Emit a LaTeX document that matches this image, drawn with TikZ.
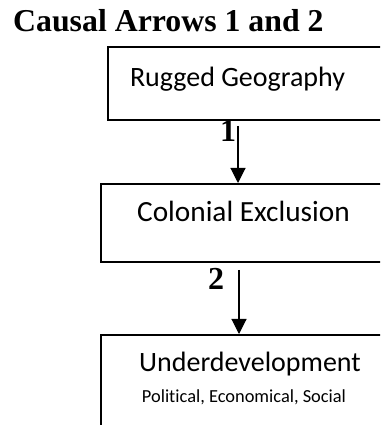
\documentclass[tikz,border=0pt]{standalone}
\usepackage{fontspec}
\setmainfont{Liberation Serif}
\newfontfamily\boxfont[RawFeature=-liga]{Carlito}
\usetikzlibrary{arrows.meta}
\begin{document}
\begin{tikzpicture}[x=1pt,y=1pt,
  stagebox/.style={draw=black,line width=1.6pt,rectangle,inner sep=0pt},
  stagetext/.style={font=\boxfont\fontsize{28}{30}\selectfont,anchor=base,inner sep=0pt},
  subtext/.style={font=\boxfont\fontsize{18.4}{20}\selectfont,anchor=base,inner sep=0pt},
  numlabel/.style={font=\bfseries\fontsize{32}{34}\selectfont,anchor=base,inner sep=0pt},
  causal/.style={line width=1.1pt,-{Triangle[length=15pt,width=15pt]}}]
\useasboundingbox (0,0) rectangle (380,425);
\clip (0,0) rectangle (380,425);
% heading
\node[font=\bfseries\fontsize{31.8}{34}\selectfont,anchor=base west,inner sep=0pt] (title) at (13,393) {Causal Arrows 1 and 2};
% the three stages (boxes run off the right-hand side)
\node[stagebox,minimum width=290pt,minimum height=73pt,anchor=north west] (geo) at (107,379) {};
\node[stagebox,minimum width=300pt,minimum height=78pt,anchor=north west] (col) at (100,242) {};
\node[stagebox,minimum width=300pt,minimum height=120pt,anchor=north west] (und) at (100,91) {};
% box texts
\node[stagetext] (geoT) at (237.5,338) {Rugged Geography};
\node[stagetext,font=\boxfont\fontsize{29.3}{31}\selectfont] (colT) at (243.5,203) {Colonial Exclusion};
\node[stagetext] (undT) at (250,53) {Underdevelopment};
\node[subtext] (undS) at (244,22) {Political, Economical, Social};
% causal arrows
\coordinate (s1) at (238,299);
\coordinate (s2) at (239,155);
\draw[causal] (s1) -- (s1 |- col.north);
\draw[causal] (s2) -- (s2 |- und.north);
\node[numlabel] (n1) at (228,283) {1};
\node[numlabel] (n2) at (216,135) {2};
\end{tikzpicture}
\end{document}
